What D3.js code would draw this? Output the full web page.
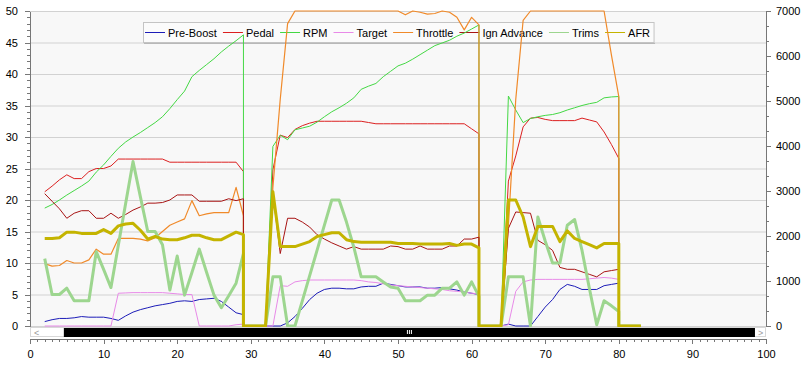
<!DOCTYPE html>
<html><head><meta charset="utf-8">
<script src="https://cdn.jsdelivr.net/npm/d3@7/dist/d3.min.js"></script>
<style>
body{margin:0;background:#fff;}
svg{display:block;font-family:"Liberation Sans",Arial,sans-serif;font-size:11px;}
</style>
</head><body>
<svg id="c" width="807" height="367"></svg>
<script>
// ---- data ----
const xs = [2,3,4,5,6,7,8,9,10,11,12,13,14,15,16,17,18,19,20,21,22,23,24,25,26,27,28,29,
  29,30,31,32,
  33,34,35,36,37,38,39,40,41,42,43,44,45,46,47,48,49,50,51,52,53,54,55,56,57,58,59,60,61,
  61,62,63,64,
  65,66,67,68,69,70,71,72,73,74,75,76,77,78,79,80,
  80,81,82,83];

const preBoost = [0.7,1.0,1.2,1.2,1.3,1.5,1.4,1.4,1.4,1.2,0.9,1.6,2.2,2.6,2.9,3.2,3.4,3.6,3.9,4.0,3.9,4.2,4.3,4.4,3.9,3.0,2.1,1.8,
  0,0,0,0,
  0,0,0.5,1.5,2.8,4.2,5.2,5.8,6.0,6.0,5.9,5.9,6.2,6.3,6.3,6.8,6.6,6.4,6.2,6.2,6.2,6.0,6.0,6.1,5.9,5.7,5.4,5.2,5.0,
  0,0,0,0,
  0.3,0,0,0,1.5,3.0,4.2,5.8,6.6,6.3,5.8,5.8,5.8,6.4,6.6,6.8,
  0,0,0,0];

const pedal = [21.3,22.2,23.2,24.0,23.4,23.4,24.5,25.0,25.0,25.4,26.5,26.5,26.5,26.5,26.5,26.5,26.5,26.0,26.0,26.0,26.0,26.0,26.0,26.0,26.0,26.0,26.0,24.5,
  0,0,0,0,
  24.8,30.3,29.9,31.2,31.8,32.2,32.5,32.5,32.5,32.5,32.5,32.5,32.5,32.3,32.1,32.1,32.1,32.1,32.1,32.1,32.1,32.1,32.1,32.1,32.1,32.1,32.1,31.3,30.5,
  0,0,0,0,
  23.0,27.0,31.6,33.0,33.1,32.8,32.6,32.6,32.6,32.6,33.0,32.7,32.4,30.8,28.8,26.6,
  0,0,0,0];

const rpm = [2620,2700,2800,2910,3010,3110,3220,3420,3580,3770,3950,4090,4200,4300,4410,4520,4650,4830,5030,5220,5540,5680,5810,5940,6090,6220,6340,6470,
  0,0,0,0,
  3990,4240,4140,4360,4400,4440,4530,4650,4760,4850,4950,5070,5260,5330,5390,5540,5660,5780,5840,5930,6030,6130,6230,6290,6350,6440,6510,6600,6690,
  0,0,0,0,
  5110,4800,4520,4610,4650,4680,4700,4740,4800,4850,4900,4940,4970,5070,5090,5100,
  0,0,0,0];

const target = [0,0,0,0,0,0,0,0,0,0,5.2,5.25,5.3,5.3,5.3,5.3,5.3,5.2,5.1,5.0,5.0,0,0,0,0,0,0.2,0.3,
  0,0,0,0,
  0,6.4,6.3,7.0,7.2,7.3,7.3,7.3,7.3,7.3,7.3,7.3,7.2,7.0,6.9,6.7,6.5,6.4,6.3,6.2,6.1,6.0,5.9,5.8,5.6,5.5,5.4,5.2,5.1,
  0,0,0,0,
  0.2,5.5,7.0,7.3,7.4,7.4,7.4,7.4,7.4,7.4,7.4,7.5,7.6,7.7,7.6,7.4,
  0,0,0,0];

const throttle = [9.9,9.5,9.6,10.4,10.0,10.0,10.5,12.2,11.4,11.4,13.9,13.9,13.9,13.8,13.5,14.0,15.0,16.0,16.5,17.0,19.9,17.5,17.8,18.0,18.0,18.0,22.0,17.5,
  0,0,0,0,
  22,36,48,50,50,50,50,50,50,50,50,50,50,50,50,50,50,50,49.4,50,49.8,49.5,49.6,50,49.8,49.0,47.0,49.0,47.8,
  0,0,0,0,
  16,36,48.5,50,50,50,50,50,50,50,50,50,50,50,43,36.4,
  0,0,0,0];

const ignAdvance = [21.0,19.8,18.6,17.1,17.9,18.3,18.3,17.1,17.1,17.9,17.1,17.7,18.4,18.9,19.5,19.5,19.6,20.0,20.8,20.8,20.8,19.8,19.8,19.8,19.8,20.2,19.9,20.2,
  0,0,0,0,
  21.0,11.5,17.1,17.1,16.5,15.7,14.5,13.8,13.2,12.7,12.2,12.6,12.2,12.2,12.2,12.2,12.7,12.6,12.2,12.2,12.7,12.2,12.2,12.2,12.7,12.7,13.8,13.8,14.1,
  0,0,0,0,
  15.5,18.1,18.0,17.9,13.6,12.9,12.0,9.3,9.0,9.0,8.6,8.2,7.8,8.6,8.8,9.0,
  0,0,0,0];

const trims = [10.7,5.0,5.0,6.0,4.0,4.0,4.0,11.8,9.0,6.1,12.8,19.5,26.1,20.5,15.0,15.0,12.9,5.7,11.1,4.9,8.5,12.2,8.5,4.9,2.9,4.8,6.8,11.5,
  0,0,0,0,
  7.8,7.8,0,0,4,8,12,16,20,20,16.5,12.5,7.8,7.8,7.8,7.0,6.2,6.0,4.0,4.0,4.0,4.9,4.9,6.0,6.0,7.0,4.9,7.0,4.7,
  0,0,0,0,
  7.8,7.8,7.8,0,17.3,13.5,10.0,10.0,16.0,16.9,12.0,6.0,0.2,4.0,3.2,2.3,
  0,0,0,0];

const afr = [13.9,13.9,14.0,14.9,14.9,14.7,14.7,14.7,15.3,14.7,15.9,16.2,16.3,15.2,13.8,14.2,13.8,13.7,13.7,14.0,14.4,14.4,14.0,13.7,13.7,14.3,14.9,14.5,
  0,0,0,0,
  21.3,12.6,12.6,12.6,13.0,13.4,14.2,14.5,14.8,14.8,13.7,13.4,13.3,13.3,13.3,13.3,13.3,13.1,13.1,13.1,13.0,13.0,13.0,13.0,13.1,12.8,13.0,13.0,12.4,
  0,0,0,0,
  20.0,20.0,17.3,12.6,15.8,15.8,15.8,13.4,15.1,13.9,13.4,12.9,12.4,13.1,13.1,13.1,
  0,0,0,0];

const seriesNames = ["Pre-Boost","Pedal","RPM","Target","Throttle","Ign Advance","Trims","AFR"];
const xTicks = [0,10,20,30,40,50,60,70,80,90,100];
const leftTicks = [0,5,10,15,20,25,30,35,40,45,50];
const rightTicks = [0,1000,2000,3000,4000,5000,6000,7000];

// ---- styling ----
const seriesDefs = [
  {name:"Pre-Boost", data:preBoost, axis:"L", color:"#1c1cb8", w:1},
  {name:"Pedal", data:pedal, axis:"L", color:"#dc2020", w:1},
  {name:"RPM", data:rpm, axis:"R", color:"#44d844", w:1},
  {name:"Target", data:target, axis:"L", color:"#e88ae8", w:1},
  {name:"Throttle", data:throttle, axis:"L", color:"#f08a2a", w:1.2},
  {name:"Ign Advance", data:ignAdvance, axis:"L", color:"#a81414", w:1},
  {name:"Trims", data:trims, axis:"L", color:"#9dd68f", w:3},
  {name:"AFR", data:afr, axis:"L", color:"#c4b400", w:3}
];

const svg = d3.select("#c");
const L=30, R=766, T=11, B=326;
const x = d3.scaleLinear().domain([0,100]).range([L,R]);
const yL = d3.scaleLinear().domain([0,50]).range([B,T]);
const yR = d3.scaleLinear().domain([0,7000]).range([B,T]);

// plot background
svg.append("rect").attr("x",L).attr("y",T).attr("width",R-L).attr("height",B-T).attr("fill","#f8f8f8");

// grid
svg.append("g").selectAll("line").data(leftTicks).join("line")
  .attr("x1",L).attr("x2",R).attr("y1",d=>yL(d)+0.5).attr("y2",d=>yL(d)+0.5)
  .attr("stroke","#d2d2d2").attr("stroke-width",1);

// axes
const axisColor="#777";
function styleAxis(g){
  g.selectAll("path,line").attr("stroke",axisColor).attr("shape-rendering","crispEdges");
  g.selectAll("text").attr("fill","#000").style("font-family","'Liberation Sans',Arial,sans-serif").style("font-size","11px");
}
// left
svg.append("g").attr("transform",`translate(${L},0)`)
  .call(d3.axisLeft(yL).tickValues(d3.range(0,51,1)).tickSize(3).tickFormat("").tickSizeOuter(0)).call(styleAxis);
svg.append("g").attr("transform",`translate(${L},0)`)
  .call(d3.axisLeft(yL).tickValues(leftTicks).tickSize(5).tickPadding(7).tickSizeOuter(0)).call(styleAxis);
// right
svg.append("g").attr("transform",`translate(${R},0)`)
  .call(d3.axisRight(yR).tickValues(d3.range(0,7001,1000/3)).tickSize(3).tickFormat("").tickSizeOuter(0)).call(styleAxis);
svg.append("g").attr("transform",`translate(${R},0)`)
  .call(d3.axisRight(yR).tickValues(rightTicks).tickFormat(d3.format("d")).tickSize(5).tickPadding(5).tickSizeOuter(0)).call(styleAxis);
// bottom
const XA=339;
svg.append("g").attr("transform",`translate(0,${XA})`)
  .call(d3.axisBottom(x).tickValues(d3.range(0,101,1)).tickSize(3).tickFormat("").tickSizeOuter(0)).call(styleAxis);
svg.append("g").attr("transform",`translate(0,${XA})`)
  .call(d3.axisBottom(x).tickValues(xTicks).tickSize(5).tickPadding(6).tickSizeOuter(0)).call(styleAxis);

// scrollbar
const sb = svg.append("g");
sb.append("rect").attr("x",L+0.5).attr("y",327.5).attr("width",R-L-1).attr("height",9).attr("fill","#fff").attr("stroke","#d8d8d8");
sb.append("rect").attr("x",x(4.6)).attr("y",328).attr("width",x(98.5)-x(4.6)).attr("height",9).attr("fill","#000");
sb.append("text").attr("x",L+4).attr("y",335.5).attr("fill","#999").style("font-size","9px").text("<");
sb.append("text").attr("x",x(98.5)+3).attr("y",335.5).attr("fill","#999").style("font-size","9px").text(">");
const cx = (x(4.6)+x(98.5))/2;
[-2,0,2].forEach(o=>sb.append("rect").attr("x",cx+o-0.5).attr("y",330).attr("width",1).attr("height",4).attr("fill","#fff"));

// legend (beneath lines)
const lg = svg.append("g");
const lgBox = lg.append("rect").attr("x",143.5).attr("y",22.5).attr("height",20).attr("fill","#fbfbfb").attr("stroke","#c4c4c4");
lg.append("line").attr("x1",144).attr("y1",43.5).attr("y2",43.5).attr("stroke","#b8b8b8").attr("class","shadow");
let cxl = 145;
seriesDefs.forEach(s=>{
  lg.append("line").attr("x1",cxl).attr("x2",cxl+20).attr("y1",32.5).attr("y2",32.5)
    .attr("stroke",s.color).attr("stroke-width",1);
  const t = lg.append("text").attr("x",cxl+23).attr("y",36.5).attr("fill","#000").text(s.name);
  const w = t.node().getComputedTextLength();
  cxl = cxl + 23 + w + 6;
});
const lgRight = cxl - 2;
lgBox.attr("width", lgRight-143.5);
lg.select("line.shadow").attr("x2", lgRight+1);

// lines
svg.append("clipPath").attr("id","clip").append("rect").attr("x",L).attr("y",T-2).attr("width",R-L).attr("height",B-T+3);
const lines = svg.append("g").attr("clip-path","url(#clip)");
seriesDefs.forEach(s=>{
  const ys = s.axis==="R" ? yR : yL;
  const gen = d3.line().x((d,i)=>x(xs[i])).y(d=>ys(d));
  lines.append("path").attr("d",gen(s.data)).attr("fill","none")
    .attr("stroke",s.color).attr("stroke-width",s.w).attr("stroke-linejoin","round");
});
</script>
</body></html>
